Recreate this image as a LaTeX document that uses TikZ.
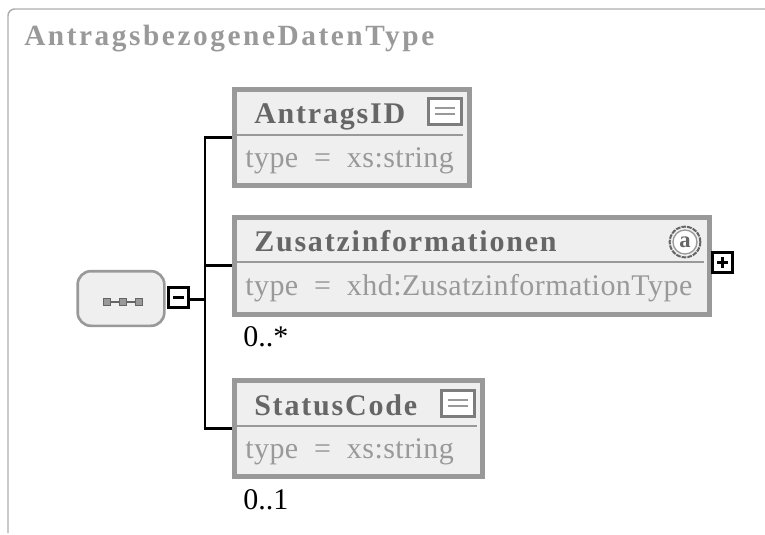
\documentclass[tikz,border=0pt]{standalone}
\usepackage{fontspec}
\setmainfont{Liberation Serif}
\newfontfamily\titlefont[LetterSpace=8.7]{Liberation Serif Bold}
\newfontfamily\namefont[LetterSpace=6]{Liberation Serif Bold}
\newfontfamily\typefont[LetterSpace=1.5, WordSpace=2]{Liberation Serif}
\usetikzlibrary{positioning}
\definecolor{boxgray}{HTML}{999999}
\definecolor{boxfill}{HTML}{EFEFEF}
\definecolor{namegray}{HTML}{666666}
\tikzset{
  elem/.style = {draw = boxgray, fill = boxfill, line width = 3.75pt, inner sep = 0},
  sep/.style = {draw = boxgray, line width = 1.6pt},
  conn/.style = {draw = black, line width = 2pt},
  toggle/.style = {draw = black, fill = white, line width = 2.4pt, inner sep = 0, minimum size = 15pt},
  doc/.style = {draw = namegray!85, fill = white, line width = 2.2pt, inner sep = 0, minimum width = 25pt, minimum height = 20pt},
  docline/.style = {draw = boxgray, line width = 1.3pt},
  dot/.style = {draw = namegray, fill = boxgray, line width = 1.2pt, inner sep = 0, minimum size = 5pt},
  elemname/.style = {anchor = base west, inner sep = 0, text = namegray, font = \fontsize{22.5}{24}\namefont},
  elemtype/.style = {anchor = base west, inner sep = 0, text = boxgray, font = \fontsize{22.5}{24}\typefont},
  card/.style = {anchor = base west, inner sep = 0, font = \fontsize{22.5}{24}\selectfont}
}

\begin{document}
\begin{tikzpicture}[x = 0.75pt, y = -0.75pt]
      \useasboundingbox (0, 0) rectangle (765, 535);
      \draw [draw = boxgray!80, line width = 1.1pt, rounded corners = 5pt] (765, 9) -- (8, 9) -- (8, 533);
      \node [anchor = base west, inner sep = 0, text = boxgray, font = \fontsize{22}{24}\titlefont] (title) at (24, 46) {AntragsbezogeneDatenType};

      % sequence and the three elements
      \node [draw = boxgray, fill = boxfill, line width = 2pt, rounded corners = 10pt, minimum width = 65pt, minimum height = 41pt] (seq) at (121, 298.5) {};
      \node [elem, minimum width = 176.25pt, minimum height = 72pt] (antrags) at (352, 137.5) {};
      \node [elem, minimum width = 356.25pt, minimum height = 72.75pt] (zusatz) at (472, 265.5) {};
      \node [elem, minimum width = 186pt, minimum height = 72pt] (status) at (358.5, 428.5) {};

      \foreach \x/\name in {107/dota, 123/dotb, 139/dotc} {
        \node [dot] (\name) at (\x, 302) {};
      }
      \draw [draw = namegray, line width = 1pt] (dota) -- (dotb) (dotb) -- (dotc);

      \node [toggle] (minus) at (178.5, 297.5) {};
      \draw [line width = 2pt] (173, 297.5) -- (184, 297.5);
      \node [toggle] (plus) at (722.5, 262.5) {};
      \draw [line width = 2pt] (717, 262.5) -- (728, 262.5) (722.5, 257) -- (722.5, 268);

      \coordinate (spine) at (205, 299.5);
      \draw [conn] (minus.east |- spine) -- (spine);
      \foreach \name in {antrags, zusatz, status} {
        \draw [conn] (spine) |- (\name.west);
      }

      % rules under the names
      \draw [sep] (237, 135) -- (463, 135);
      \draw [sep] (237, 262) -- (704, 262);
      \draw [sep] (237, 426) -- (477, 426);

      % documentation icons
      \foreach \x/\y/\name in {445/111.5/docantrags, 458/403.5/docstatus} {
        \node [doc] (\name) at (\x, \y) {};
        \draw [docline] (\x - 10, \y - 3.5) -- (\x + 10, \y - 3.5);
        \draw [docline] (\x - 10, \y + 2.5) -- (\x + 10, \y + 2.5);
      }

      % attribute icon
      \node [circle, draw = namegray, dash pattern = on 3.5pt off 0.8pt, line width = 1.5pt, minimum size = 23pt, inner sep = 0] (attr) at (685, 242) {};
      \node [circle, draw = boxgray, line width = 1pt, fill = white, minimum size = 18pt, inner sep = 0, text = namegray, font = \fontsize{17}{17}\selectfont\bfseries] (attrname) at (attr) {a};

      \node [elemname] (antragsname) at (254, 124) {AntragsID};
      \node [elemtype] (antragstype) at (245, 167) {type = xs:string};
      \node [elemname] (zusatzname) at (254, 252) {Zusatzinformationen};
      \node [elemtype] (zusatztype) at (245, 295) {type = xhd:ZusatzinformationType};
      \node [card] (zusatzcard) at (243, 346) {0..*};
      \node [elemname] (statusname) at (254, 415) {StatusCode};
      \node [elemtype] (statustype) at (245, 458) {type = xs:string};
      \node [card] (statuscard) at (243, 509) {0..1};
    \end{tikzpicture}
\end{document}
